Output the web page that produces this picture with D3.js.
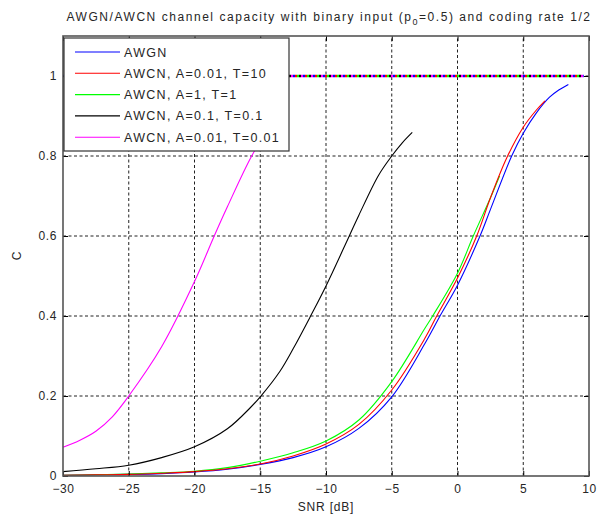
<!DOCTYPE html>
<html>
<head>
<meta charset="utf-8">
<script src="https://cdn.jsdelivr.net/npm/d3@7"></script>
<style>
  html, body { margin: 0; padding: 0; background: #fff; }
  svg text { font-family: "Liberation Sans", Arial, sans-serif; fill: #262626; }
</style>
</head>
<body>
<svg id="chart" width="610" height="516"></svg>
<script>
// Capacity curves: SNR in dB and capacity C for each channel model
const seriesNames = ["AWGN", "AWCN, A=0.01, T=10", "AWCN, A=1, T=1", "AWCN, A=0.1, T=0.1", "AWCN, A=0.01, T=0.01"];
const seriesColors = ["#0000ff", "#ff0000", "#00ff00", "#000000", "#ff00ff"];

const snrAwgn = [-30, -27.5, -25, -22.5, -20, -17.5, -15, -12.5, -10, -7.5, -5, -2.5, -1.33, 0, 1.71, 2.5, 4.12, 5, 6, 7, 7.7, 8.43];
const capAwgn = [0.002, 0.003, 0.004, 0.006, 0.010, 0.017, 0.029, 0.046, 0.073, 0.119, 0.198, 0.33, 0.4, 0.477, 0.6, 0.666, 0.8, 0.857, 0.908, 0.947, 0.965, 0.979];

const snrA001T10 = [-30, -27.5, -25, -22.5, -20, -17.5, -15, -12.5, -10, -7.5, -5, -2.5, -1.58, 0, 1.46, 2.5, 3.74, 5, 6, 6.65];
const capA001T10 = [0.002, 0.003, 0.004, 0.007, 0.011, 0.018, 0.030, 0.050, 0.080, 0.129, 0.215, 0.343, 0.4, 0.495, 0.6, 0.695, 0.795, 0.872, 0.915, 0.938];

const snrA1T1 = [-30, -27.5, -25, -22.5, -20, -17.5, -15, -12.5, -10, -7.5, -5, -2.5, -1.89, 0, 1.2, 2.5, 3.2];
const capA1T1 = [0.002, 0.003, 0.005, 0.008, 0.012, 0.021, 0.037, 0.058, 0.0875, 0.14, 0.236, 0.368, 0.4, 0.507, 0.6, 0.695, 0.75];

const snrA01T01 = [-30, -27.5, -25, -22.5, -20, -17.5, -15.78, -15, -13.5, -12.5, -11.2, -10, -8.23, -7.5, -6, -5, -4.2, -3.44];
const capA01T01 = [0.011, 0.018, 0.027, 0.046, 0.073, 0.118, 0.17, 0.198, 0.262, 0.318, 0.398, 0.475, 0.6, 0.652, 0.752, 0.8, 0.833, 0.859];

const snrA001T001 = [-30, -28.75, -27.5, -26.25, -25, -22.5, -20, -18.5, -17.5, -15.65, -14.5, -13.5];
const capA001T001 = [0.072, 0.089, 0.112, 0.148, 0.2, 0.323, 0.486, 0.6, 0.673, 0.8, 0.86, 0.9];

// Capacity ceiling C = 1 (rate limit line)
const snrLimit = [-30, 9.6];
const capLimit = [1, 1];

const xTicks = [-30, -25, -20, -15, -10, -5, 0, 5, 10];
const yTicks = [0, 0.2, 0.4, 0.6, 0.8, 1];

const titleMain = "AWGN/AWCN channel capacity with binary input (p";
const titleSub = "0";
const titleTail = "=0.5) and coding rate 1/2";
const xLabel = "SNR [dB]";
const yLabel = "C";

const series = [
  { name: seriesNames[0], color: seriesColors[0], x: snrAwgn, y: capAwgn },
  { name: seriesNames[1], color: seriesColors[1], x: snrA001T10, y: capA001T10 },
  { name: seriesNames[2], color: seriesColors[2], x: snrA1T1, y: capA1T1 },
  { name: seriesNames[3], color: seriesColors[3], x: snrA01T01, y: capA01T01 },
  { name: seriesNames[4], color: seriesColors[4], x: snrA001T001, y: capA001T001 }
];

const svg = d3.select("#chart");
const margin = { left: 63, right: 21, top: 36, bottom: 40 };
const W = 610, H = 516;
const x = d3.scaleLinear().domain([-30, 10]).range([margin.left, W - margin.right]);
const y = d3.scaleLinear().domain([0, 1.1]).range([H - margin.bottom, margin.top]);

const plot = svg.append("g");

// Grid
plot.append("g").selectAll("line").data(xTicks.slice(1, -1)).join("line")
  .attr("x1", d => x(d)).attr("x2", d => x(d))
  .attr("y1", y(0)).attr("y2", y(1.1))
  .attr("stroke", "#222").attr("stroke-width", 1).attr("stroke-dasharray", "3,2.5");
plot.append("g").selectAll("line").data(yTicks.slice(1)).join("line")
  .attr("x1", x(-30)).attr("x2", x(10))
  .attr("y1", d => y(d)).attr("y2", d => y(d))
  .attr("stroke", "#222").attr("stroke-width", 1).attr("stroke-dasharray", "3,2.5");

const line = d3.line().x(d => x(d[0])).y(d => y(d[1])).curve(d3.curveCatmullRom.alpha(0.5));

// Ceiling line, drawn once per series colour with staggered dashes
seriesColors.forEach((c, i) => {
  plot.append("path")
    .datum(d3.zip(snrLimit, capLimit))
    .attr("d", line)
    .attr("fill", "none")
    .attr("stroke", c)
    .attr("stroke-width", 2.6)
    .attr("stroke-dasharray", "2,8")
    .attr("stroke-dashoffset", -2 * i);
});

// Capacity curves
[0, 2, 1, 3, 4].forEach(i => {
  const s = series[i];
  plot.append("path")
    .datum(d3.zip(s.x, s.y))
    .attr("d", line)
    .attr("fill", "none")
    .attr("stroke", s.color)
    .attr("stroke-width", 1.1);
});

// Axes box with inward ticks
const axisColor = "#555";
const tickLen = 5;
const axX = d3.axisBottom(x).tickValues(xTicks).tickSize(-tickLen).tickPadding(8).tickFormat(d3.format("d"));
const axXTop = d3.axisTop(x).tickValues(xTicks).tickSize(-tickLen).tickFormat("");
const axY = d3.axisLeft(y).tickValues(yTicks).tickSize(-tickLen).tickPadding(6).tickFormat(d => d === 0 ? "0" : d === 1 ? "1" : d3.format(".1f")(d));
const axYRight = d3.axisRight(y).tickValues(yTicks).tickSize(-tickLen).tickFormat("");

function styleAxis(g) {
  g.select(".domain").remove();
  g.selectAll(".tick line").attr("stroke", "#000");
  g.selectAll("text").attr("font-size", 12).attr("letter-spacing", "0.6px").attr("fill", "#262626")
    .attr("font-family", "\"Liberation Sans\", Arial, sans-serif");
}

svg.append("g").attr("transform", `translate(0,${y(0)})`).call(axX).call(styleAxis);
svg.append("g").attr("transform", `translate(0,${y(1.1)})`).call(axXTop).call(styleAxis);
svg.append("g").attr("transform", `translate(${x(-30)},0)`).call(axY).call(styleAxis);
svg.append("g").attr("transform", `translate(${x(10)},0)`).call(axYRight).call(styleAxis);

svg.append("rect")
  .attr("x", x(-30)).attr("y", y(1.1))
  .attr("width", x(10) - x(-30)).attr("height", y(0) - y(1.1))
  .attr("fill", "none").attr("stroke", axisColor).attr("stroke-width", 1.6);

// Legend
const lg = svg.append("g");
const lgX = 64, lgY = 38, lgW = 225, lgH = 113;
lg.append("rect").attr("x", lgX).attr("y", lgY).attr("width", lgW).attr("height", lgH)
  .attr("fill", "#fff").attr("stroke", "#333").attr("stroke-width", 1.2);
series.forEach((s, i) => {
  const cy = 52 + i * 21.3;
  lg.append("line").attr("x1", 75).attr("x2", 120).attr("y1", cy).attr("y2", cy)
    .attr("stroke", s.color).attr("stroke-width", 1.1);
  lg.append("text").attr("x", 124).attr("y", cy + 4.5)
    .attr("font-size", 12.5).attr("letter-spacing", "1.3px").text(s.name);
});

// Title with subscript
const title = svg.append("text").attr("x", 329).attr("y", 21).attr("text-anchor", "middle")
  .attr("font-size", 12).attr("letter-spacing", "1.55px");
title.append("tspan").text(titleMain);
title.append("tspan").attr("font-size", 9).attr("dy", 4).text(titleSub);
title.append("tspan").attr("dy", -4).text(titleTail);

// Axis labels
svg.append("text").attr("x", x(-10)).attr("y", 511).attr("text-anchor", "middle")
  .attr("font-size", 12).attr("letter-spacing", "0.8px").text(xLabel);
svg.append("text").attr("transform", `translate(21,${y(0.55)}) rotate(-90)`)
  .attr("text-anchor", "middle").attr("font-size", 12).text(yLabel);
</script>
</body>
</html>
